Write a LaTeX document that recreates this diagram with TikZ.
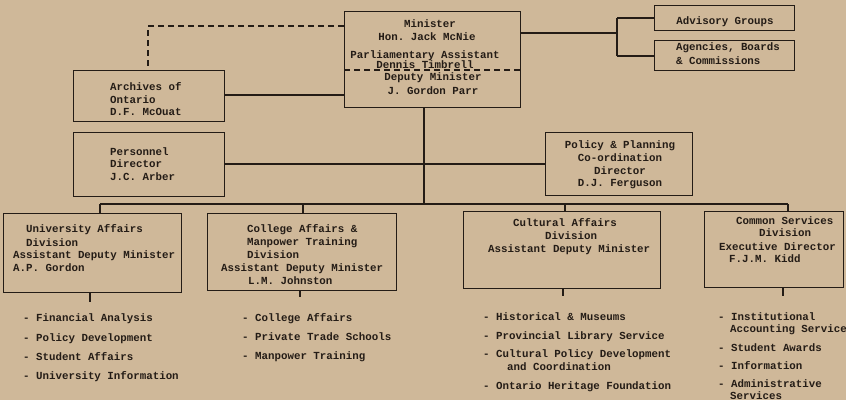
\documentclass[tikz,border=0pt]{standalone}
\usepackage{fontspec}
\setmonofont{Liberation Mono}
\definecolor{paper}{RGB}{207,184,153}
\definecolor{ink}{RGB}{36,28,22}
\begin{document}
\begin{tikzpicture}[x=1pt,y=-1pt,
  box/.style={draw=ink, line width=1.1pt, inner sep=0pt, anchor=north west, rectangle},
  conn/.style={draw=ink, line width=1.1pt},
  dconn/.style={draw=ink, line width=1.1pt, dash pattern=on 6pt off 4pt},
  tl/.style={font=\ttfamily\bfseries\fontsize{10.8}{13}\selectfont, text=ink, inner sep=0pt, anchor=base west},
  tc/.style={font=\ttfamily\bfseries\fontsize{10.8}{13}\selectfont, text=ink, inner sep=0pt, anchor=base}]
\fill[paper] (0,0) rectangle (846,400);
\useasboundingbox (0,0) rectangle (846,400);

% boxes
\node[box, minimum width=176pt, minimum height=96pt] (min) at (344,11) {};
\node[box, minimum width=140pt, minimum height=25pt] (adv) at (654,5) {};
\node[box, minimum width=140pt, minimum height=30pt] (agc) at (654,40) {};
\node[box, minimum width=151pt, minimum height=51pt] (arc) at (73,70) {};
\node[box, minimum width=151pt, minimum height=64pt] (per) at (73,132) {};
\node[box, minimum width=147pt, minimum height=63pt] (pol) at (545,132) {};
\node[box, minimum width=178pt, minimum height=79pt] (uni) at (3,213) {};
\node[box, minimum width=189pt, minimum height=77pt] (col) at (207,213) {};
\node[box, minimum width=197pt, minimum height=77pt] (cul) at (463,211) {};
\node[box, minimum width=139pt, minimum height=76pt] (com) at (704,211) {};

% minister texts
\node[tc] (m1) at (430,27) {Minister};
\node[tc] (m2) at (427,40) {Hon. Jack McNie};
\node[tc] (m3) at (425,58) {Parliamentary Assistant};
\node[tc] (m4) at (425,68) {Dennis Timbrell};
\draw[dconn] (min.west |- 0,70) coordinate (dl) -- (min.east |- 0,70) coordinate (dr);
\node[tc] (m5) at (433,80) {Deputy Minister};
\node[tc] (m6) at (433,94) {J. Gordon Parr};

% advisory / agencies
\node[tc] (a1) at (725,24) {Advisory Groups};
\node[tl] (a2) at (676,50) {Agencies, Boards};
\node[tl] (a3) at (676,64) {\& Commissions};

% archives, personnel, policy
\node[tl] (r1) at (110,90) {Archives of};
\node[tl] (r2) at (110,103) {Ontario};
\node[tl] (r3) at (110,115) {D.F. McOuat};
\node[tl] (p1) at (110,155) {Personnel};
\node[tl] (p2) at (110,167) {Director};
\node[tl] (p3) at (110,180) {J.C. Arber};
\node[tc] (q1) at (620,148) {Policy \& Planning};
\node[tc] (q2) at (620,161) {Co-ordination};
\node[tc] (q3) at (620,174) {Director};
\node[tc] (q4) at (620,186) {D.J. Ferguson};

% division texts
\node[tl] (u1) at (26,232) {University Affairs};
\node[tl] (u2) at (26,246) {Division};
\node[tl] (u3) at (13,258) {Assistant Deputy Minister};
\node[tl] (u4) at (13,271) {A.P. Gordon};
\node[tl] (c1) at (247,232) {College Affairs \&};
\node[tl] (c2) at (247,245) {Manpower Training};
\node[tl] (c3) at (247,258) {Division};
\node[tl] (c4) at (221,271) {Assistant Deputy Minister};
\node[tl] (c5) at (248,284) {L.M. Johnston};
\node[tl] (k1) at (513,226) {Cultural Affairs};
\node[tl] (k2) at (545,239) {Division};
\node[tl] (k3) at (488,252) {Assistant Deputy Minister};
\node[tl] (s1) at (736,224) {Common Services};
\node[tl] (s2) at (759,236) {Division};
\node[tl] (s3) at (719,250) {Executive Director};
\node[tl] (s4) at (729,262) {F.J.M. Kidd};

% lists
\node[tl] (ul1) at (23,321) {- Financial Analysis};
\node[tl] (ul2) at (23,341) {- Policy Development};
\node[tl] (ul3) at (23,360) {- Student Affairs};
\node[tl] (ul4) at (23,379) {- University Information};
\node[tl] (cl1) at (242,321) {- College Affairs};
\node[tl] (cl2) at (242,340) {- Private Trade Schools};
\node[tl] (cl3) at (242,359) {- Manpower Training};
\node[tl] (kl1) at (483,320) {- Historical \& Museums};
\node[tl] (kl2) at (483,339) {- Provincial Library Service};
\node[tl] (kl3) at (483,357) {- Cultural Policy Development};
\node[tl] (kl4) at (507,370) {and Coordination};
\node[tl] (kl5) at (483,389) {- Ontario Heritage Foundation};
\node[tl] (sl1) at (718,320) {- Institutional};
\node[tl] (sl2) at (730,332) {Accounting Service};
\node[tl] (sl3) at (718,351) {- Student Awards};
\node[tl] (sl4) at (718,369) {- Information};
\node[tl] (sl5) at (718,387) {- Administrative};
\node[tl] (sl6) at (730,399) {Services};

% connectors
\coordinate (bus) at (424,204);
\coordinate (jp) at (424,164);
\draw[conn] (min.south -| bus) -- (bus);
\draw[conn] (per.east |- jp) -- (jp) -- (pol.west |- jp);
\draw[conn] (arc.east |- 0,95) -- (min.west |- 0,95);
\coordinate (dk) at (148,26);
\draw[dconn] (min.west |- dk) -- (dk) -- (arc.north -| dk);
% right side
\coordinate (rv1) at (617,18);
\coordinate (rv2) at (617,56);
\coordinate (rvm) at (617,33);
\draw[conn] (min.east |- rvm) -- (rvm);
\draw[conn] (rv1) -- (rv2);
\draw[conn] (rv1) -- (adv.west |- rv1);
\draw[conn] (rv2) -- (agc.west |- rv2);
% bus
\coordinate (b1) at (100,204);
\coordinate (b2) at (303,204);
\coordinate (b3) at (565,204);
\coordinate (b4) at (788,204);
\draw[conn] (b1) -- (b4);
\draw[conn] (b1) -- (uni.north -| b1);
\draw[conn] (b2) -- (col.north -| b2);
\draw[conn] (b3) -- (cul.north -| b3);
\draw[conn] (b4) -- (com.north -| b4);
% stubs below
\coordinate (us) at (90,302);
\coordinate (cs) at (300,297);
\coordinate (ks) at (563,296);
\coordinate (ss) at (783,296);
\draw[conn] (uni.south -| us) -- (us);
\draw[conn] (col.south -| cs) -- (cs);
\draw[conn] (cul.south -| ks) -- (ks);
\draw[conn] (com.south -| ss) -- (ss);
\end{tikzpicture}
\end{document}
